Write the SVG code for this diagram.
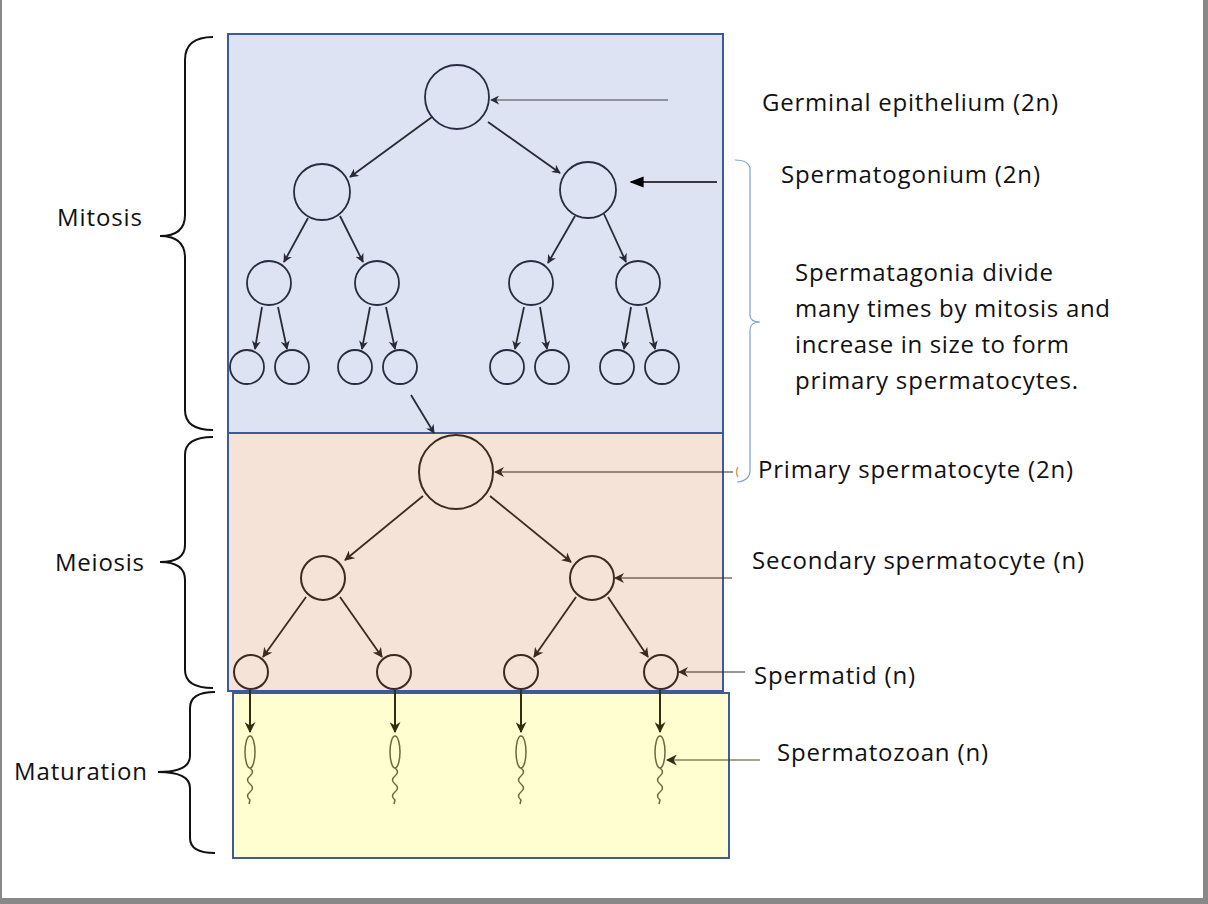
<svg xmlns="http://www.w3.org/2000/svg" width="1208" height="904" viewBox="0 0 1208 904">
<defs>
<marker id="a" viewBox="0 0 10 10" refX="9" refY="5" markerWidth="9" markerHeight="9" markerUnits="userSpaceOnUse" orient="auto"><path d="M0,0 L10,5 L0,10 L3,5 z" fill="#2a2a35"/></marker>
<marker id="ab" viewBox="0 0 10 10" refX="9" refY="5" markerWidth="10" markerHeight="10" markerUnits="userSpaceOnUse" orient="auto"><path d="M0,0 L10,5 L0,10 L3,5 z" fill="#3a2a20"/></marker>
<marker id="ay" viewBox="0 0 10 10" refX="9" refY="5" markerWidth="11" markerHeight="11" markerUnits="userSpaceOnUse" orient="auto"><path d="M0,0 L10,5 L0,10 L3,5 z" fill="#2e2e10"/></marker>
<marker id="ak" viewBox="0 0 10 10" refX="9" refY="5" markerWidth="14" markerHeight="14" markerUnits="userSpaceOnUse" orient="auto"><path d="M0,1 L10,5 L0,9 z" fill="#000"/></marker>
</defs>
<style>
text{font-family:"Open Sans","Liberation Sans",sans-serif;font-size:24px;fill:#111}
.cb{fill:none;stroke:#2a2a40;stroke-width:1.8}
.cm{fill:none;stroke:#3d2b20;stroke-width:2}
.lb{stroke:#2a2a35;stroke-width:1.8;marker-end:url(#a)}
.lm{stroke:#3a2a20;stroke-width:1.8;marker-end:url(#ab)}
.thin{stroke:#444;stroke-width:1;marker-end:url(#a)}
.br{fill:none;stroke:#111;stroke-width:2}
</style>
<rect width="1208" height="904" fill="#fff"/>
<rect x="0" y="0" width="2" height="904" fill="#888"/>
<rect x="1203" y="0" width="5" height="904" fill="#888"/>
<rect x="0" y="898" width="1208" height="6" fill="#888"/>
<g id="boxes">
<rect x="228" y="34" width="495" height="399" fill="#dde3f2" stroke="#3f5a9a" stroke-width="2"/>
<rect x="228" y="433" width="495" height="258" fill="#f5e3d8" stroke="#3f5a9a" stroke-width="2"/>
<rect x="233" y="693" width="496" height="165" fill="#fefed0" stroke="#3f5a9a" stroke-width="2"/>
</g>
<g id="cells">
<circle class="cb" cx="457" cy="97" r="32"/>
<circle class="cb" cx="322" cy="192" r="28"/><circle class="cb" cx="588" cy="190" r="28"/>
<circle class="cb" cx="269" cy="283" r="22"/><circle class="cb" cx="377" cy="283" r="22"/>
<circle class="cb" cx="531" cy="283" r="22"/><circle class="cb" cx="638" cy="283" r="22"/>
<circle class="cb" cx="247" cy="367" r="17"/><circle class="cb" cx="292" cy="367" r="17"/>
<circle class="cb" cx="355" cy="367" r="17"/><circle class="cb" cx="400" cy="367" r="17"/>
<circle class="cb" cx="507" cy="367" r="17"/><circle class="cb" cx="552" cy="367" r="17"/>
<circle class="cb" cx="617" cy="367" r="17"/><circle class="cb" cx="662" cy="367" r="17"/>
<circle class="cm" cx="456" cy="472" r="37"/>
<circle class="cm" cx="323" cy="578" r="22"/><circle class="cm" cx="592" cy="578" r="22"/>
<circle class="cm" cx="251" cy="672" r="17"/><circle class="cm" cx="394" cy="672" r="17"/>
<circle class="cm" cx="521" cy="672" r="17"/><circle class="cm" cx="661" cy="672" r="17"/>
</g>
<g id="sperm" fill="none" stroke="#6a6a3a" stroke-width="1.5">
<ellipse cx="250" cy="752" rx="5" ry="16"/><ellipse cx="395" cy="752" rx="5" ry="16"/>
<ellipse cx="521" cy="752" rx="5" ry="16"/><ellipse cx="660" cy="752" rx="5" ry="16"/>
<path d="M250,768 q5,4 0,8 q-5,4 0,8 q5,4 0,8 q-5,4 0,8 l-1,4"/>
<path d="M395,768 q5,4 0,8 q-5,4 0,8 q5,4 0,8 q-5,4 0,8 l-1,4"/>
<path d="M521,768 q5,4 0,8 q-5,4 0,8 q5,4 0,8 q-5,4 0,8 l-1,4"/>
<path d="M660,768 q5,4 0,8 q-5,4 0,8 q5,4 0,8 q-5,4 0,8 l-1,4"/>
</g>
<g id="connectors">
<line class="lb" x1="432" y1="117" x2="350" y2="177"/>
<line class="lb" x1="488" y1="122" x2="560" y2="173"/>
<line class="lb" x1="308" y1="218" x2="284" y2="262"/>
<line class="lb" x1="340" y1="216" x2="363" y2="262"/>
<line class="lb" x1="575" y1="216" x2="548" y2="263"/>
<line class="lb" x1="604" y1="214" x2="626" y2="262"/>
<line class="lb" x1="262" y1="307" x2="255" y2="349"/>
<line class="lb" x1="278" y1="307" x2="287" y2="349"/>
<line class="lb" x1="370" y1="307" x2="362" y2="349"/>
<line class="lb" x1="386" y1="307" x2="395" y2="349"/>
<line class="lb" x1="524" y1="307" x2="515" y2="349"/>
<line class="lb" x1="540" y1="307" x2="547" y2="349"/>
<line class="lb" x1="631" y1="307" x2="624" y2="349"/>
<line class="lb" x1="646" y1="307" x2="655" y2="349"/>
<line class="lb" x1="411" y1="395" x2="434" y2="433"/>
<line class="lm" x1="423" y1="496" x2="345" y2="560"/>
<line class="lm" x1="490" y1="496" x2="571" y2="562"/>
<line class="lm" x1="306" y1="597" x2="263" y2="657"/>
<line class="lm" x1="340" y1="597" x2="382" y2="657"/>
<line class="lm" x1="576" y1="597" x2="534" y2="657"/>
<line class="lm" x1="608" y1="597" x2="648" y2="657"/>
<g stroke="#2e2e10" stroke-width="2" marker-end="url(#ay)">
<line x1="250" y1="690" x2="250" y2="732"/><line x1="395" y1="690" x2="395" y2="732"/>
<line x1="521" y1="690" x2="521" y2="732"/><line x1="660" y1="690" x2="660" y2="732"/>
</g>
<line class="thin" x1="668" y1="100" x2="491" y2="100"/>
<line x1="717" y1="182" x2="631" y2="182" stroke="#000" stroke-width="1.5" marker-end="url(#ak)"/>
<line x1="733" y1="472" x2="495" y2="472" stroke="#3a2a20" stroke-width="1.2" marker-end="url(#ab)"/>
<line x1="732" y1="578" x2="615" y2="578" stroke="#3a2a20" stroke-width="1.2" marker-end="url(#ab)"/>
<line x1="745" y1="672" x2="679" y2="672" stroke="#3a2a20" stroke-width="1.2" marker-end="url(#ab)"/>
<line x1="760" y1="760" x2="667" y2="760" stroke="#4a4a20" stroke-width="1.2" marker-end="url(#ay)"/>
<path d="M735,160 Q750,160 750,170 L750,315 Q750,322 760,322 Q750,322 750,330 L750,470 Q750,481 737,482" fill="none" stroke="#7ea0d0" stroke-width="1.2"/>
<path d="M738,467 q-3,5 0,10" fill="none" stroke="#d8a060" stroke-width="1.5"/>
</g>
<g id="braces">
<path class="br" d="M213,37 Q185,37 185,60 L185,215 Q185,236 160,236 Q185,236 185,258 L185,410 Q185,430 213,430"/>
<path class="br" d="M213,437 Q185,437 185,455 L185,545 Q185,562 160,562 Q185,562 185,580 L185,670 Q185,688 213,688"/>
<path class="br" d="M215,692 Q190,692 190,708 L190,756 Q190,772 158,772 Q190,772 190,788 L190,838 Q190,853 215,853"/>
</g>
<g id="labels">
<text x="57" y="226" textLength="85">Mitosis</text>
<text x="55" y="571" textLength="89">Meiosis</text>
<text x="14" y="780" textLength="133">Maturation</text>
<text x="762" y="111" textLength="296">Germinal epithelium (2n)</text>
<text x="781" y="183" textLength="259">Spermatogonium (2n)</text>
<text x="795" y="281" textLength="258">Spermatagonia divide</text>
<text x="795" y="317" textLength="315">many times by mitosis and</text>
<text x="795" y="353" textLength="274">increase in size to form</text>
<text x="795" y="389" textLength="283">primary spermatocytes.</text>
<text x="758" y="478" textLength="315">Primary spermatocyte (2n)</text>
<text x="752" y="569" textLength="332">Secondary spermatocyte (n)</text>
<text x="754" y="684" textLength="161">Spermatid (n)</text>
<text x="777" y="761" textLength="211">Spermatozoan (n)</text>
</g>
</svg>
